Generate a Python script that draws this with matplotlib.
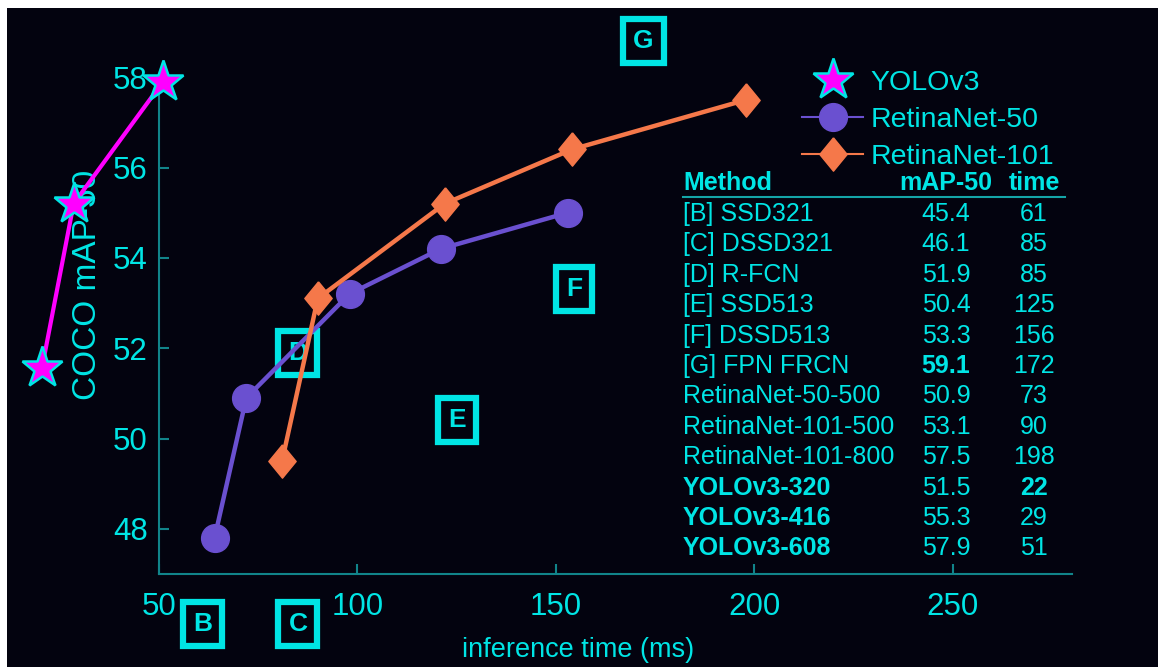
import matplotlib.pyplot as plt
from matplotlib.lines import Line2D
from matplotlib.patches import Rectangle

plt.rcParams["font.family"] = ["Liberation Sans", "DejaVu Sans"]

# данные с графика
yolo_time = [20.5, 28.5, 51]
yolo_map = [51.55, 55.2, 57.9]
r50_time = [64, 72, 98, 121, 153]
r50_map = [47.8, 50.9, 53.2, 54.2, 55.0]
r101_time = [81, 90, 122, 154, 198]
r101_map = [49.5, 53.1, 55.2, 56.4, 57.5]

# буквы-метки других методов
box_labels = ["B", "C", "D", "E", "F", "G"]
box_time = [61, 85, 85, 125, 154.5, 172]
box_map = [45.9, 45.9, 51.9, 50.4, 53.3, 58.8]

# таблица
methods = ["[B] SSD321", "[C] DSSD321", "[D] R-FCN", "[E] SSD513", "[F] DSSD513",
           "[G] FPN FRCN", "RetinaNet-50-500", "RetinaNet-101-500",
           "RetinaNet-101-800", "YOLOv3-320", "YOLOv3-416", "YOLOv3-608"]
map50 = ["45.4", "46.1", "51.9", "50.4", "53.3", "59.1", "50.9", "53.1",
         "57.5", "51.5", "55.3", "57.9"]
times = ["61", "85", "85", "125", "156", "172", "73", "90", "198", "22", "29", "51"]
bold_method = [False] * 9 + [True] * 3
bold_map = [False] * 5 + [True] + [False] * 6
bold_time = [False] * 9 + [True] + [False] * 2

bg = "#03030f"
cyan = "#00e5e5"
spine_c = "#11848a"
purple = "#6a50d0"
orange = "#f5784a"
magenta = "#ff00ff"

W, H = 1158, 667
fig = plt.figure(figsize=(W / 100, H / 100), dpi=100)
fig.patch.set_facecolor("white")
fig.patches.append(Rectangle((7 / W, 0), 1, 1 - 8 / H, transform=fig.transFigure,
                             facecolor=bg, edgecolor="none", zorder=-10))

ax = fig.add_axes([159 / W, 1 - 574 / H, 913 / W, 542 / H])
ax.set_facecolor("none")
ax.set_xlim(50, 280)
ax.set_ylim(47, 59)

for s in ["top", "right"]:
    ax.spines[s].set_visible(False)
for s in ["left", "bottom"]:
    ax.spines[s].set_color(spine_c)
    ax.spines[s].set_linewidth(1.5)
ax.spines["left"].set_bounds(47, 58)

ax.set_xticks([50, 100, 150, 200, 250])
ax.set_yticks([48, 50, 52, 54, 56, 58])
ax.tick_params(axis="both", direction="in", length=7, width=1.5, color=spine_c,
               labelcolor=cyan, labelsize=22.5)
ax.tick_params(axis="x", pad=13)
ax.tick_params(axis="y", pad=8)

ax.set_xlabel("inference time (ms)", color=cyan, fontsize=19.5)
ax.xaxis.set_label_coords(0.459, -0.116)
ax.set_ylabel("COCO mAP-50", color=cyan, fontsize=24)
ax.yaxis.set_label_coords(-0.061, 0.533)

# квадраты с буквами
for lab, x, y in zip(box_labels, box_time, box_map):
    ax.text(x, y, lab, color=cyan, fontsize=19, fontweight="bold", ha="center",
            va="center", clip_on=False, zorder=2,
            bbox=dict(boxstyle="square,pad=0.38", fc=bg, ec=cyan, lw=4.5))

ax.plot(yolo_time, yolo_map, color=magenta, lw=3, marker="*", ms=31,
        mfc=magenta, mec=cyan, mew=1.8, clip_on=False, zorder=5)
ax.plot(r50_time, r50_map, color=purple, lw=3.2, marker="o", ms=20,
        mec=purple, clip_on=False, zorder=4)
diamond = [(0, 1), (0.82, 0), (0, -1), (-0.82, 0), (0, 1)]
ax.plot(r101_time, r101_map, color=orange, lw=3.2, marker=diamond, ms=24,
        mec=orange, clip_on=False, zorder=4)

handles = [
    Line2D([], [], color=magenta, lw=0, marker="*", ms=31, mfc=magenta, mec=cyan, mew=1.8),
    Line2D([], [], color=purple, lw=1.5, marker="o", ms=20),
    Line2D([], [], color=orange, lw=1.5, marker=diamond, ms=24),
]
leg = fig.legend(handles, ["YOLOv3", "RetinaNet-50", "RetinaNet-101"],
                 loc="upper left", bbox_to_anchor=(802 / W, 1 - 70 / H),
                 frameon=False, fontsize=20.5, labelcolor=cyan, handlelength=2.15,
                 handletextpad=0.25, labelspacing=0.38, borderpad=0, borderaxespad=0)

# таблица справа
def fy(py):
    return 1 - py / H

fs = 18
x_m, x_a, x_t = 683 / W, 946 / W, 1034 / W
fig.text(x_m, fy(183), "Method", color=cyan, fontsize=fs, fontweight="bold", va="center")
fig.text(x_a, fy(183), "mAP-50", color=cyan, fontsize=fs, fontweight="bold",
         va="center", ha="center")
fig.text(x_t, fy(183), "time", color=cyan, fontsize=fs, fontweight="bold",
         va="center", ha="center")
fig.add_artist(Line2D([683 / W, 1065 / W], [fy(197), fy(197)], color="#14a5a8", lw=1.5))

for i in range(len(methods)):
    yy = fy(214 + i * 30.4)
    fig.text(x_m, yy, methods[i], color=cyan, fontsize=fs, va="center",
             fontweight="bold" if bold_method[i] else "normal")
    fig.text(x_a, yy, map50[i], color=cyan, fontsize=fs, va="center", ha="center",
             fontweight="bold" if bold_map[i] else "normal")
    fig.text(x_t, yy, times[i], color=cyan, fontsize=fs, va="center", ha="center",
             fontweight="bold" if bold_time[i] else "normal")

fig.savefig("out.png", dpi=100, facecolor=fig.get_facecolor())
